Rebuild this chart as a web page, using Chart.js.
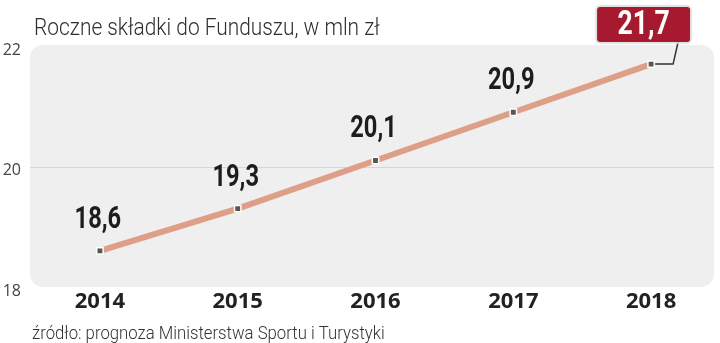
<!DOCTYPE html>
<html lang="pl">
<head>
<meta charset="utf-8">
<title>Roczne składki do Funduszu</title>
<script src="https://cdn.jsdelivr.net/npm/chart.js@4.4.1/dist/chart.umd.min.js"></script>
<style>
  html, body { margin: 0; padding: 0; background: #fff; }
  #wrap { width: 720px; height: 343px; position: relative; }
</style>
</head>
<body>
<div id="wrap"><canvas id="chart"></canvas></div>
<script>
const years = ["2014", "2015", "2016", "2017", "2018"];
const contributions = [18.6, 19.3, 20.1, 20.9, 21.7];
const yTicks = [18, 20, 22];

const titleText = "Roczne składki do Funduszu, w mln zł";
const sourceText = "źródło: prognoza Ministerstwa Sportu i Turystyki";

const PLAIN = '"Open Sans", Roboto, sans-serif';

const fmt = (v) => v.toFixed(1).replace(".", ",");

// condensed look: draw Roboto squeezed horizontally
function narrowText(ctx, text, x, y, font, squeeze, align, baseline = "middle") {
    ctx.save();
    ctx.font = font;
    ctx.textAlign = align;
    ctx.textBaseline = baseline;
    ctx.translate(x, y);
    ctx.scale(squeeze, 1);
    ctx.fillText(text, 0, 0);
    ctx.restore();
}

// grey rounded panel behind the plot and the middle grid line
const panel = {
    id: "panel",
    beforeDraw(chart) {
        const { ctx, chartArea: a, scales } = chart;
        const right = a.right - 6;
        ctx.save();
        ctx.fillStyle = "#efeff0";
        ctx.beginPath();
        ctx.roundRect(a.left - 1, a.top - 1, right - a.left + 1, a.bottom - a.top + 1, 13);
        ctx.fill();
        ctx.strokeStyle = "#d6d6d8";
        ctx.lineWidth = 1;
        scales.y.ticks.forEach((t) => {
            if (t.value === scales.y.min || t.value === scales.y.max) return;
            const y = Math.round(scales.y.getPixelForValue(t.value)) + 0.5;
            ctx.beginPath();
            ctx.moveTo(a.left - 1, y);
            ctx.lineTo(right, y);
            ctx.stroke();
        });
        ctx.restore();
    },
};

// value labels above points, the last one in a red box with a leader line
const valueLabels = {
    id: "valueLabels",
    afterDatasetsDraw(chart) {
        const { ctx } = chart;
        const meta = chart.getDatasetMeta(0);
        const last = meta.data.length - 1;
        ctx.save();
        meta.data.forEach((pt, i) => {
            const txt = fmt(contributions[i]);
            if (i < last) {
                ctx.fillStyle = "#1d1d1d";
                narrowText(ctx, txt, pt.x - 2, pt.y - 31, "bold 32px Roboto", 0.74, "center");
                return;
            }
            const bx = pt.x - 54, by = 7, bw = 93, bh = 35;
            // leader
            ctx.strokeStyle = "#333";
            ctx.lineWidth = 1.5;
            ctx.beginPath();
            ctx.moveTo(pt.x + 4, pt.y);
            ctx.lineTo(pt.x + 22, pt.y);
            ctx.lineTo(pt.x + 27, by + bh);
            ctx.stroke();
            // box
            ctx.save();
            ctx.shadowColor = "rgba(0,0,0,0.35)";
            ctx.shadowBlur = 3;
            ctx.fillStyle = "#a6192e";
            ctx.beginPath();
            ctx.roundRect(bx, by, bw, bh, 3);
            ctx.fill();
            ctx.restore();
            ctx.strokeStyle = "#e2e2e2";
            ctx.lineWidth = 1.5;
            ctx.beginPath();
            ctx.roundRect(bx - 1, by - 1, bw + 2, bh + 2, 4);
            ctx.stroke();
            ctx.fillStyle = "#fff";
            narrowText(ctx, txt, bx + bw / 2, by + bh / 2 + 1, "bold 34px Roboto", 0.78, "center");
        });
        ctx.restore();
    },
};

// heading and source line
const captions = {
    id: "captions",
    afterDraw(chart) {
        const { ctx } = chart;
        ctx.fillStyle = "#2e2e2e";
        narrowText(ctx, titleText, 34, 35, "300 24px Roboto", 0.87, "left", "alphabetic");
        ctx.fillStyle = "#333";
        narrowText(ctx, sourceText, 32, 339, "300 18px Roboto", 0.93, "left", "alphabetic");
    },
};

new Chart(document.getElementById("chart"), {
    type: "line",
    data: {
        labels: years,
        datasets: [{
            data: contributions,
            borderColor: "#dd9f88",
            borderWidth: 6,
            tension: 0,
            pointStyle: "rect",
            pointRadius: 4.5,
            pointBackgroundColor: "#565656",
            pointBorderColor: "#fff",
            pointBorderWidth: 1.5,
            clip: false,
        }],
    },
    options: {
        responsive: true,
        maintainAspectRatio: false,
        animation: false,
        layout: { autoPadding: false, padding: { top: 46, bottom: 28, left: 0, right: 0 } },
        plugins: {
            legend: { display: false },
            tooltip: { enabled: false },
        },
        scales: {
            x: {
                offset: true,
                grid: { display: false, drawTicks: false },
                border: { display: false },
                ticks: {
                    padding: 2,
                    color: "#222",
                    font: { family: PLAIN, size: 22, weight: "bold" },
                },
                afterFit: (s) => {
                    s.height = 28;
                    s.paddingLeft = 0;
                    s.paddingRight = 0;
                },
            },
            y: {
                min: 18,
                max: 22,
                afterBuildTicks: (s) => { s.ticks = yTicks.map((v) => ({ value: v })); },
                grid: { display: false, drawTicks: false },
                border: { display: false },
                ticks: {
                    padding: 10,
                    labelOffset: 4,
                    color: "#444",
                    font: { family: PLAIN, size: 16 },
                },
                afterFit: (s) => { s.width = 31; },
            },
        },
    },
    plugins: [panel, valueLabels, captions],
});
</script>
</body>
</html>
